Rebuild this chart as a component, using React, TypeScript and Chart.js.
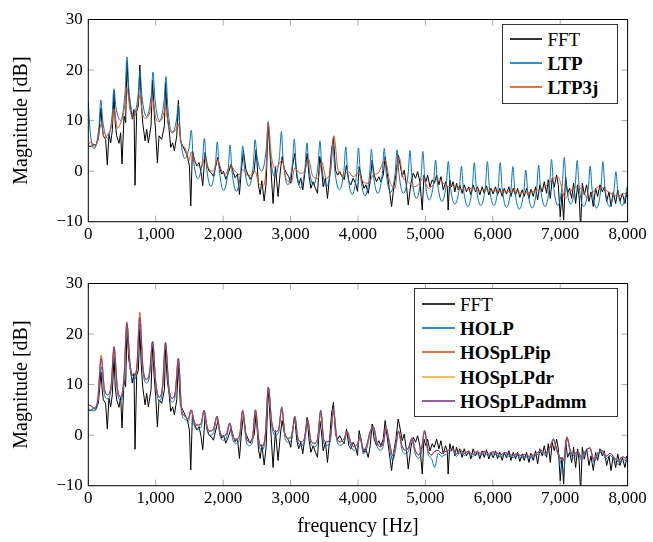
import { useEffect, useRef } from 'react';
import { Chart, registerables } from 'chart.js';

Chart.register(...registerables);

type Pt = [number, number];

const SERIF = "'Liberation Serif', 'Times New Roman', serif";

const X_TICKS = [0, 1000, 2000, 3000, 4000, 5000, 6000, 7000, 8000];
const Y_TICKS = [-10, 0, 10, 20, 30];

// Measured FFT magnitude (frequency Hz, dB) – same in both panels
const FFT: Pt[] = [
  [0, 5.0], [40, 4.9], [74, 5.3], [109, 5.1], [149, 6.3], [170, 9.5], [188, 12.5], [205, 9.0], [223, 7.0], [257, 6.3],
  [282, 1.2], [307, 7.3], [332, 5.6], [356, 8.0], [381, 15.5], [400, 9.5], [421, 7.0], [455, 5.5], [480, 7.6], [500, 1.4],
  [530, 10.9], [554, 9.6], [574, 21.5], [600, 15.0], [619, 13.5], [653, 10.3], [678, 12.2], [693, -2.8], [718, 11.9], [743, 12.9],
  [764, 21.0], [785, 14.0], [807, 9.6], [842, 6.0], [866, 8.3], [891, 5.6], [931, 9.0], [954, 18.0], [975, 12.0], [1000, 7.6],
  [1025, 1.6], [1049, 7.0], [1089, 6.3], [1129, 9.0], [1147, 17.5], [1170, 11.0], [1198, 8.3], [1223, 4.7], [1252, 5.6], [1277, 4.0],
  [1312, 7.0], [1336, 14.0], [1366, 6.0], [1401, 5.0], [1436, 4.0], [1470, 3.0], [1500, 1.0], [1520, -6.9], [1544, 4.0], [1574, 2.3],
  [1609, 1.0], [1643, 1.7], [1673, -0.3], [1698, -2.9], [1732, 3.7], [1767, 1.0], [1792, 0.0], [1822, -0.3], [1856, -1.0], [1881, 0.4],
  [1920, 2.7], [1955, 0.4], [1980, -0.6], [2005, 0.0], [2039, -1.6], [2079, -0.3], [2119, 1.4], [2153, -0.3], [2178, -1.3], [2213, -0.6],
  [2242, -4.6], [2267, -0.3], [2302, 4.0], [2336, 0.4], [2366, -0.6], [2401, -1.6], [2426, -1.0], [2460, 0.0], [2490, 4.3], [2525, -2.9],
  [2549, -4.6], [2574, -1.9], [2609, -5.9], [2638, -2.3], [2660, 6.0], [2671, 9.3], [2692, 4.2], [2741, -6.4], [2776, 0.9], [2815, -5.0],
  [2850, 0.2], [2875, 2.9], [2905, 0.6], [2939, -0.4], [2974, -1.1], [3004, -2.4], [3028, 0.9], [3063, 3.5], [3093, -1.1], [3122, -2.7],
  [3152, -1.4], [3182, -3.7], [3212, -0.4], [3246, 3.5], [3276, -1.1], [3301, -3.4], [3335, -2.1], [3370, -3.4], [3400, -4.4], [3434, 2.9],
  [3459, 0.6], [3484, -3.1], [3518, -1.4], [3548, -5.4], [3578, -1.1], [3608, 4.2], [3637, 6.5], [3667, 0.2], [3697, -0.8], [3731, -0.1],
  [3766, -1.1], [3796, -1.7], [3830, 1.2], [3865, -2.1], [3895, -2.7], [3929, -1.4], [3964, -2.4], [3994, -4.0], [4018, 0.9], [4053, -1.4],
  [4088, -3.4], [4117, -2.7], [4152, -4.4], [4182, -2.1], [4211, 2.2], [4241, -0.8], [4276, -2.1], [4310, -1.1], [4340, -2.1], [4375, -0.8],
  [4404, 2.9], [4434, -0.4], [4464, -3.4], [4499, -7.0], [4533, -3.1], [4563, -0.8], [4597, 3.2], [4627, 1.2], [4657, -1.1], [4687, 0.2],
  [4721, -3.1], [4746, -6.7], [4786, -2.4], [4820, -0.4], [4855, -1.4], [4885, -0.1], [4919, -2.1], [4954, -7.7], [4979, -0.8], [5008, -2.1],
  [5033, -0.8], [5068, -3.1], [5102, -1.7], [5132, -2.4], [5167, -0.8], [5201, -2.7], [5231, -1.1], [5266, -3.7], [5300, -2.1], [5325, -3.1],
  [5338, -7.7], [5363, -1.7], [5388, -3.1], [5412, -2.1], [5437, -4.1], [5462, -2.4], [5487, -3.7], [5511, -2.7], [5546, -4.4], [5576, -2.7],
  [5610, -4.1], [5645, -3.1], [5675, -4.7], [5709, -2.7], [5744, -4.1], [5774, -3.1], [5808, -4.7], [5843, -3.1], [5873, -4.4], [5907, -2.9],
  [5942, -4.7], [5972, -3.4], [6006, -4.5], [6041, -3.1], [6071, -4.7], [6105, -3.4], [6140, -5.0], [6170, -3.4], [6204, -4.5], [6239, -3.1],
  [6269, -5.0], [6303, -3.4], [6338, -4.7], [6368, -3.4], [6402, -5.2], [6437, -3.7], [6467, -5.0], [6501, -3.4], [6536, -5.4], [6566, -3.6],
  [6600, -5.0], [6635, -3.1], [6665, -5.7], [6699, -2.7], [6734, -4.1], [6764, -2.1], [6798, -4.4], [6823, -1.7], [6853, -5.4], [6882, -1.4],
  [6912, -3.1], [6947, -0.8], [6972, -2.7], [7001, -9.0], [7026, -4.4], [7051, -9.7], [7080, -1.1], [7110, -4.4], [7140, -3.4], [7170, -5.4],
  [7199, -2.4], [7229, -6.4], [7259, -2.7], [7283, -5.4], [7303, -11.5], [7328, -2.4], [7358, -4.7], [7392, -2.7], [7427, -6.0], [7457, -4.1],
  [7491, -7.0], [7526, -3.4], [7556, -5.0], [7590, -2.7], [7625, -4.1], [7655, -3.1], [7689, -6.0], [7724, -4.1], [7754, -7.0], [7788, -4.1],
  [7823, -6.4], [7853, -3.7], [7887, -6.0], [7922, -4.4], [7961, -6.4], [7991, -4.1], [8000, -5.4],
];

// LTP envelope (top panel)
const LTP: Pt[] = [
  [0, 13.7], [28, 7.8], [88, 4.5],
  [158, 8.8], [186, 14.1], [214, 9.9], [285, 6.5],
  [352, 10.9], [380, 16.3], [408, 12.8], [478, 10.0],
  [546, 15.7], [574, 22.6], [602, 16.2], [670, 11.0],
  [739, 15.0], [767, 19.8], [795, 14.9], [863, 10.8],
  [932, 14.8], [960, 19.6], [988, 14.3], [1056, 10.0],
  [1124, 13.9], [1152, 18.7], [1180, 12.5], [1244, 7.5],
  [1308, 10.1], [1336, 13.2], [1364, 7.3], [1432, 2.5],
  [1500, 5.0], [1528, 8.1], [1556, 2.8], [1625, -1.5],
  [1694, 2.1], [1722, 6.5], [1750, 1.3], [1817, -3.0],
  [1885, 1.0], [1913, 5.8], [1941, 0.5], [2008, -3.8],
  [2075, 0.3], [2103, 5.2], [2131, 0.1], [2197, -4.0],
  [2262, 0.1], [2290, 5.0], [2318, 0.6], [2383, -3.0],
  [2447, 1.1], [2475, 6.2], [2503, 2.8], [2572, 0.0],
  [2640, 4.4], [2668, 9.8], [2696, 3.8], [2766, -1.1],
  [2836, 2.9], [2864, 7.8], [2892, 2.0], [2960, -2.7],
  [3027, 1.4], [3055, 6.3], [3083, 1.0], [3149, -3.4],
  [3215, 0.7], [3243, 5.6], [3271, 1.0], [3340, -2.7],
  [3408, 1.2], [3436, 6.0], [3464, 1.0], [3532, -3.1],
  [3600, 0.6], [3628, 5.2], [3656, 0.3], [3724, -3.7],
  [3792, 0.1], [3820, 4.8], [3848, -0.4], [3914, -4.6],
  [3980, -0.5], [4008, 4.6], [4036, -0.6], [4104, -4.9],
  [4172, -0.8], [4200, 4.3], [4228, -0.5], [4295, -4.4],
  [4362, -0.4], [4390, 4.5], [4418, -0.3], [4485, -4.2],
  [4552, -0.4], [4580, 4.2], [4608, -0.5], [4676, -4.4],
  [4744, -0.6], [4772, 4.1], [4800, -1.1], [4868, -5.4],
  [4935, -1.2], [4963, 3.9], [4991, -1.4], [5058, -5.7],
  [5124, -2.1], [5152, 2.2], [5180, -2.3], [5246, -6.0],
  [5312, -2.4], [5340, 1.9], [5368, -2.7], [5438, -6.5],
  [5507, -3.1], [5535, 1.0], [5563, -3.4], [5630, -7.0],
  [5698, -3.1], [5726, 1.7], [5754, -3.0], [5823, -6.8],
  [5892, -2.9], [5920, 1.9], [5948, -2.9], [6015, -6.8],
  [6082, -3.0], [6110, 1.7], [6138, -3.2], [6204, -7.2],
  [6270, -3.6], [6298, 0.9], [6326, -3.7], [6394, -7.5],
  [6462, -4.0], [6490, 0.2], [6518, -3.9], [6585, -7.3],
  [6652, -3.5], [6680, 1.2], [6708, -3.3], [6776, -7.0],
  [6843, -2.8], [6871, 2.3], [6899, -2.7], [6966, -6.8],
  [7032, -2.5], [7060, 2.7], [7088, -2.4], [7156, -6.5],
  [7224, -2.6], [7252, 2.1], [7280, -2.9], [7348, -7.0],
  [7417, -3.4], [7445, 1.0], [7473, -3.6], [7540, -7.3],
  [7606, -3.2], [7634, 1.9], [7662, -3.0], [7730, -7.0],
  [7798, -3.9], [7826, -0.1], [7854, -3.8], [7921, -6.8],
  [8000, -2.8],
];

// LTP3j envelope (top panel)
const LTP3J: Pt[] = [
  [0, 5.2], [40, 5.8], [90, 4.8], [140, 6.0], [191, 9.3], [240, 6.5], [300, 7.5], [345, 9.0], [382, 12.3], [430, 8.5],
  [480, 9.5], [530, 12.0], [572, 16.5], [620, 12.0], [670, 10.5], [720, 12.0], [763, 15.0], [810, 11.0], [860, 10.5], [910, 11.5],
  [954, 14.3], [1000, 10.5], [1050, 9.8], [1100, 10.5], [1145, 12.5], [1195, 8.5], [1240, 7.8], [1290, 8.0], [1336, 9.3], [1380, 5.5],
  [1436, 4.6], [1490, 2.0], [1528, 3.8], [1560, 2.5], [1610, 1.3], [1683, 0.9], [1725, 2.6], [1782, 0.6], [1856, 0.0], [1915, 2.3],
  [1980, 0.0], [2030, -0.7], [2105, 1.1], [2178, 0.0], [2237, -0.7], [2292, 0.3], [2376, -1.0], [2475, 0.0], [2525, -2.3], [2599, -2.9],
  [2640, 1.0], [2668, 9.5], [2717, 2.9], [2766, 0.6], [2840, 1.6], [2875, 2.2], [2939, -1.7], [3013, -2.1], [3063, 0.6], [3137, -0.4],
  [3211, -0.1], [3261, 2.5], [3335, -1.1], [3410, -1.4], [3459, 1.9], [3533, -1.4], [3583, -0.4], [3642, 7.0], [3706, 0.2], [3781, -0.8],
  [3855, -0.1], [3929, -1.1], [4004, -0.4], [4078, -2.1], [4152, -2.4], [4226, -0.8], [4300, -0.4], [4400, 2.2], [4474, -2.1], [4548, -3.4],
  [4607, 2.9], [4672, -1.4], [4746, -2.1], [4820, -3.1], [4895, -2.7], [4969, -1.4], [5043, -3.4], [5117, -2.7], [5192, -1.4], [5266, -2.4],
  [5340, -3.1], [5412, -2.7], [5487, -3.4], [5586, -3.7], [5685, -3.4], [5784, -3.9], [5883, -3.6], [5982, -3.9], [6081, -3.9], [6180, -4.1],
  [6279, -3.9], [6378, -4.1], [6477, -4.3], [6576, -4.1], [6675, -3.7], [6774, -3.1], [6848, -2.1], [6912, -1.4], [6972, -1.2], [7021, -3.1],
  [7071, -5.4], [7120, -4.7], [7194, -3.4], [7269, -3.1], [7343, -4.1], [7417, -5.4], [7491, -4.1], [7566, -3.1], [7640, -3.4], [7714, -4.1],
  [7788, -4.7], [7863, -5.0], [7937, -4.4], [8000, -4.7],
];

// Bottom panel envelopes
const HOLP: Pt[] = [
  [0, 5.0], [40, 4.9], [90, 4.8], [140, 6.3], [191, 13.5], [240, 8.0], [290, 7.2], [340, 9.3], [382, 16.8], [430, 8.8],
  [480, 6.8], [530, 10.8], [572, 21.8], [620, 13.3], [670, 10.9], [720, 12.8], [763, 22.0], [810, 12.8], [860, 10.3], [910, 11.8],
  [954, 18.2], [1000, 9.8], [1050, 6.8], [1100, 8.8], [1145, 17.8], [1195, 8.8], [1240, 6.5], [1290, 7.8], [1336, 14.6], [1385, 4.4],
  [1430, 3.2], [1480, 2.6], [1526, 4.8], [1575, 1.8], [1620, 1.2], [1670, 1.5], [1717, 4.6], [1765, 0.8], [1810, 0.0], [1860, 0.5],
  [1908, 3.5], [1955, -0.2], [2000, -1.0], [2050, -0.5], [2099, 2.2], [2145, -1.0], [2195, -1.6], [2245, -0.8], [2290, 4.6], [2340, -1.0],
  [2385, -2.1], [2435, -1.3], [2480, 4.7], [2530, -1.8], [2575, -3.0], [2625, -0.6], [2671, 9.2], [2720, 2.0], [2770, 0.0], [2820, 0.4],
  [2870, 5.6], [2920, -0.7], [2970, -1.4], [3020, -0.7], [3063, 3.5], [3110, -1.3], [3160, -2.0], [3210, -1.2], [3255, 2.8], [3300, -1.7],
  [3350, -2.3], [3400, -1.5], [3448, 5.0], [3495, -1.7], [3545, -2.0], [3590, -1.2], [3636, 4.8], [3685, -1.0], [3735, -2.0], [3790, -1.5],
  [3840, 0.4], [3890, -2.0], [3940, -3.0], [3990, -2.5], [4032, -0.6], [4080, -3.7], [4130, -2.7], [4181, 0.3], [4230, 1.4], [4280, -2.0],
  [4330, -3.0], [4375, -2.2], [4418, 1.2], [4465, -2.0], [4515, -5.0], [4560, -2.7], [4602, 0.9], [4650, -2.7], [4700, -3.7], [4750, -3.2],
  [4800, -0.9], [4850, -3.7], [4900, -4.6], [4945, -3.2], [4988, 1.0], [5040, -3.7], [5090, -4.6], [5140, -6.4], [5190, -3.6], [5240, -4.2],
  [5290, -3.9], [5340, -3.6], [5400, -2.9], [5460, -4.2], [5520, -3.4], [5580, -4.0], [5640, -3.6], [5700, -4.2], [5760, -3.7], [5820, -4.0],
  [5880, -3.5], [5940, -4.2], [6000, -3.7], [6060, -3.9], [6120, -4.3], [6180, -3.8], [6240, -4.2], [6300, -4.4], [6360, -4.0], [6420, -4.5],
  [6480, -4.2], [6540, -4.6], [6600, -4.3], [6660, -3.9], [6720, -3.4], [6780, -4.0], [6840, -2.8], [6900, -0.7], [6950, -3.2], [7000, -5.0],
  [7050, -7.2], [7100, -0.3], [7150, -3.5], [7200, -4.5], [7260, -3.6], [7320, -5.0], [7380, -3.4], [7440, -2.4], [7500, -5.3], [7560, -3.9],
  [7620, -3.3], [7680, -4.7], [7740, -4.0], [7800, -4.9], [7860, -5.8], [7920, -4.8], [8000, -5.2],
];

const HOSPLP_IP: Pt[] = [
  [0, 6.0], [40, 5.8], [90, 5.4], [140, 7.0], [191, 15.8], [240, 9.0], [290, 8.0], [340, 10.0], [382, 17.6], [430, 9.5],
  [480, 7.5], [530, 11.5], [572, 22.4], [620, 14.0], [670, 11.6], [720, 13.5], [763, 24.3], [810, 13.5], [860, 11.0], [910, 12.5],
  [954, 18.6], [1000, 10.5], [1050, 7.5], [1100, 9.5], [1145, 18.3], [1195, 9.5], [1240, 7.3], [1290, 8.5], [1336, 15.2], [1385, 5.0],
  [1430, 3.8], [1480, 3.2], [1526, 5.0], [1575, 2.5], [1620, 2.0], [1670, 2.2], [1717, 4.9], [1765, 1.5], [1810, 0.8], [1860, 1.3],
  [1908, 3.7], [1955, 0.6], [2000, -0.2], [2050, 0.3], [2099, 2.4], [2145, -0.3], [2195, -0.8], [2245, 0.0], [2290, 4.9], [2340, -0.3],
  [2385, -1.3], [2435, -0.5], [2480, 5.0], [2530, -1.0], [2575, -2.3], [2625, 0.0], [2671, 9.5], [2720, 2.7], [2770, 0.7], [2820, 1.0],
  [2870, 5.3], [2920, 0.0], [2970, -0.6], [3020, 0.0], [3063, 3.7], [3110, -0.6], [3160, -1.3], [3210, -0.5], [3255, 3.0], [3300, -1.0],
  [3350, -1.6], [3400, -0.8], [3448, 4.7], [3495, -1.0], [3545, -1.3], [3590, -0.5], [3636, 5.0], [3685, -0.3], [3735, -1.3], [3790, -0.8],
  [3840, 0.7], [3890, -1.3], [3940, -2.3], [3990, -1.8], [4032, -0.3], [4080, -3.0], [4130, -2.0], [4181, 0.7], [4230, 1.7], [4280, -1.3],
  [4330, -2.3], [4375, -1.5], [4418, 1.4], [4465, -1.3], [4515, -4.0], [4560, -2.0], [4602, 0.7], [4650, -2.0], [4700, -3.0], [4750, -2.5],
  [4800, -0.6], [4850, -3.0], [4900, -3.9], [4945, -2.5], [4988, 0.7], [5040, -3.0], [5090, -3.9], [5140, -3.2], [5190, -3.0], [5240, -3.6],
  [5290, -3.3], [5340, -3.0], [5400, -2.6], [5460, -3.7], [5520, -3.0], [5580, -3.6], [5640, -3.2], [5700, -3.8], [5760, -3.3], [5820, -3.6],
  [5880, -3.2], [5940, -3.8], [6000, -3.3], [6060, -3.5], [6120, -3.9], [6180, -3.4], [6240, -3.8], [6300, -4.0], [6360, -3.6], [6420, -4.1],
  [6480, -3.8], [6540, -4.2], [6600, -3.9], [6660, -3.5], [6720, -3.0], [6780, -3.6], [6840, -2.6], [6900, -1.0], [6950, -2.8], [7000, -4.5],
  [7050, -5.0], [7100, -0.5], [7150, -3.0], [7200, -4.0], [7260, -3.2], [7320, -4.5], [7380, -3.0], [7440, -2.6], [7500, -4.8], [7560, -3.5],
  [7620, -3.0], [7680, -4.2], [7740, -3.6], [7800, -4.4], [7860, -5.2], [7920, -4.3], [8000, -4.8],
];

const HOSPLP_DR: Pt[] = [
  [0, 6.0], [40, 5.8], [90, 5.4], [140, 7.0], [191, 15.3], [240, 9.0], [290, 8.0], [340, 10.0], [382, 17.4], [430, 9.5],
  [480, 7.5], [530, 11.5], [572, 22.1], [620, 14.0], [670, 11.6], [720, 13.5], [763, 23.6], [810, 13.5], [860, 11.0], [910, 12.5],
  [954, 18.5], [1000, 10.5], [1050, 7.5], [1100, 9.5], [1145, 18.3], [1195, 9.5], [1240, 7.3], [1290, 8.5], [1336, 15.2], [1385, 5.0],
  [1430, 3.8], [1480, 3.2], [1526, 5.0], [1575, 2.5], [1620, 2.0], [1670, 2.2], [1717, 4.9], [1765, 1.5], [1810, 0.8], [1860, 1.3],
  [1908, 3.7], [1955, 0.6], [2000, -0.2], [2050, 0.3], [2099, 2.4], [2145, -0.3], [2195, -0.8], [2245, 0.0], [2290, 4.9], [2340, -0.3],
  [2385, -1.3], [2435, -0.5], [2480, 5.0], [2530, -1.0], [2575, -2.3], [2625, 0.0], [2671, 9.5], [2720, 2.7], [2770, 0.7], [2820, 1.0],
  [2870, 5.3], [2920, 0.0], [2970, -0.6], [3020, 0.0], [3063, 3.7], [3110, -0.6], [3160, -1.3], [3210, -0.5], [3255, 3.0], [3300, -1.0],
  [3350, -1.6], [3400, -0.8], [3448, 4.7], [3495, -1.0], [3545, -1.3], [3590, -0.5], [3636, 5.0], [3685, -0.3], [3735, -1.3], [3790, -0.8],
  [3840, 0.7], [3890, -1.3], [3940, -2.3], [3990, -1.8], [4032, -0.3], [4080, -3.0], [4130, -2.0], [4181, 0.7], [4230, 1.7], [4280, -1.3],
  [4330, -2.3], [4375, -1.5], [4418, 1.4], [4465, -1.3], [4515, -4.0], [4560, -2.0], [4602, 0.7], [4650, -2.0], [4700, -3.0], [4750, -2.5],
  [4800, -0.6], [4850, -3.0], [4900, -3.9], [4945, -2.5], [4988, 0.7], [5040, -3.0], [5090, -3.9], [5140, -3.2], [5190, -3.0], [5240, -3.6],
  [5290, -3.3], [5340, -3.0], [5400, -2.6], [5460, -3.7], [5520, -3.0], [5580, -3.6], [5640, -3.2], [5700, -3.8], [5760, -3.3], [5820, -3.6],
  [5880, -3.2], [5940, -3.8], [6000, -3.3], [6060, -3.5], [6120, -3.9], [6180, -3.4], [6240, -3.8], [6300, -4.0], [6360, -3.6], [6420, -4.1],
  [6480, -3.8], [6540, -4.2], [6600, -3.9], [6660, -3.5], [6720, -3.0], [6780, -3.6], [6840, -2.6], [6900, -1.0], [6950, -2.8], [7000, -4.5],
  [7050, -5.0], [7100, -0.5], [7150, -3.0], [7200, -4.0], [7260, -3.2], [7320, -4.5], [7380, -3.0], [7440, -2.6], [7500, -4.8], [7560, -3.5],
  [7620, -3.0], [7680, -4.2], [7740, -3.6], [7800, -4.4], [7860, -5.2], [7920, -4.3], [8000, -4.8],
];

const HOSPLP_ADMM: Pt[] = [
  [0, 6.0], [40, 5.8], [90, 5.4], [140, 7.0], [191, 15.2], [240, 9.0], [290, 8.0], [340, 10.0], [382, 17.4], [430, 9.5],
  [480, 7.5], [530, 11.5], [572, 22.1], [620, 14.0], [670, 11.6], [720, 13.5], [763, 23.3], [810, 13.5], [860, 11.0], [910, 12.5],
  [954, 18.5], [1000, 10.5], [1050, 7.5], [1100, 9.5], [1145, 18.3], [1195, 9.5], [1240, 7.3], [1290, 8.5], [1336, 15.2], [1385, 5.0],
  [1430, 3.8], [1480, 3.2], [1526, 5.0], [1575, 2.5], [1620, 2.0], [1670, 2.2], [1717, 4.9], [1765, 1.5], [1810, 0.8], [1860, 1.3],
  [1908, 3.7], [1955, 0.6], [2000, -0.2], [2050, 0.3], [2099, 2.4], [2145, -0.3], [2195, -0.8], [2245, 0.0], [2290, 4.9], [2340, -0.3],
  [2385, -1.3], [2435, -0.5], [2480, 5.0], [2530, -1.0], [2575, -2.3], [2625, 0.0], [2671, 9.5], [2720, 2.7], [2770, 0.7], [2820, 1.0],
  [2870, 5.3], [2920, 0.0], [2970, -0.6], [3020, 0.0], [3063, 3.7], [3110, -0.6], [3160, -1.3], [3210, -0.5], [3255, 3.0], [3300, -1.0],
  [3350, -1.6], [3400, -0.8], [3448, 4.7], [3495, -1.0], [3545, -1.3], [3590, -0.5], [3636, 5.0], [3685, -0.3], [3735, -1.3], [3790, -0.8],
  [3840, 0.7], [3890, -1.3], [3940, -2.3], [3990, -1.8], [4032, -0.3], [4080, -3.0], [4130, -2.0], [4181, 0.7], [4230, 1.7], [4280, -1.3],
  [4330, -2.3], [4375, -1.5], [4418, 1.4], [4465, -1.3], [4515, -4.0], [4560, -2.0], [4602, 0.7], [4650, -2.0], [4700, -3.0], [4750, -2.5],
  [4800, -0.6], [4850, -3.0], [4900, -3.9], [4945, -2.5], [4988, 0.7], [5040, -3.0], [5090, -3.9], [5140, -3.2], [5190, -3.0], [5240, -3.6],
  [5290, -3.3], [5340, -3.0], [5400, -2.6], [5460, -3.7], [5520, -3.0], [5580, -3.6], [5640, -3.2], [5700, -3.8], [5760, -3.3], [5820, -3.6],
  [5880, -3.2], [5940, -3.8], [6000, -3.3], [6060, -3.5], [6120, -3.9], [6180, -3.4], [6240, -3.8], [6300, -4.0], [6360, -3.6], [6420, -4.1],
  [6480, -3.8], [6540, -4.2], [6600, -3.9], [6660, -3.5], [6720, -3.0], [6780, -3.6], [6840, -2.6], [6900, -1.0], [6950, -2.8], [7000, -4.5],
  [7050, -5.0], [7100, -0.5], [7150, -3.0], [7200, -4.0], [7260, -3.2], [7320, -4.5], [7380, -3.0], [7440, -2.6], [7500, -4.8], [7560, -3.5],
  [7620, -3.0], [7680, -4.2], [7740, -3.6], [7800, -4.4], [7860, -5.2], [7920, -4.3], [8000, -4.8],
];

const C_FFT = '#000000';
const C_BLUE = '#0072BD';
const C_ORANGE = '#D95319';
const C_YELLOW = '#EDB120';
const C_PURPLE = '#7E2F8E';

const toXY = (pts: Pt[]) => pts.map(([x, y]) => ({ x, y }));

const fmtX = (v: number) => v.toLocaleString('en-US');
const fmtY = (v: number) => (v < 0 ? '\u2212' + Math.abs(v) : String(v));

const frameTicks = {
  id: 'frameTicks',
  beforeDatasetsDraw(chart: any) {
    const { ctx, chartArea: a, scales } = chart;
    const L = 6;
    ctx.save();
    ctx.strokeStyle = '#a8a8a8';
    ctx.lineWidth = 1;
    ctx.beginPath();
    for (const t of scales.x.ticks) {
      const px = scales.x.getPixelForValue(t.value);
      ctx.moveTo(px, a.bottom);
      ctx.lineTo(px, a.bottom - L);
      ctx.moveTo(px, a.top);
      ctx.lineTo(px, a.top + L);
    }
    for (const t of scales.y.ticks) {
      const py = scales.y.getPixelForValue(t.value);
      ctx.moveTo(a.left, py);
      ctx.lineTo(a.left + L, py);
      ctx.moveTo(a.right, py);
      ctx.lineTo(a.right - L, py);
    }
    ctx.stroke();
    ctx.restore();
  },
  afterDatasetsDraw(chart: any) {
    const { ctx, chartArea: a } = chart;
    ctx.save();
    ctx.strokeStyle = '#000';
    ctx.lineWidth = 1;
    ctx.strokeRect(a.left, a.top, a.right - a.left, a.bottom - a.top);
    ctx.restore();
  },
};

function lineDs(label: string, pts: Pt[], color: string, order: number, smooth: boolean) {
  return {
    label,
    data: toXY(pts),
    borderColor: color,
    backgroundColor: color,
    borderWidth: 1,
    pointRadius: 0,
    fill: false,
    order,
    tension: 0,
    cubicInterpolationMode: smooth ? 'monotone' : 'default',
  };
}

function makeConfig(datasets: any[], padTop: number, xHeight: number, xTitle: string | null) {
  return {
    type: 'line',
    data: { datasets },
    options: {
      animation: false,
      responsive: false,
      devicePixelRatio: 1,
      events: [],
      layout: { padding: { left: 0, right: 25.4, top: padTop, bottom: 0 } },
      plugins: { legend: { display: false }, tooltip: { enabled: false } },
      scales: {
        x: {
          type: 'linear',
          min: 0,
          max: 8000,
          afterBuildTicks: (s: any) => {
            s.ticks = X_TICKS.map((v) => ({ value: v }));
          },
          afterFit: (s: any) => {
            s.height = xHeight;
          },
          ticks: {
            callback: (v: any) => fmtX(Number(v)),
            color: '#000',
            font: { family: SERIF, size: 17 },
            padding: 3,
            maxRotation: 0,
            autoSkip: false,
          },
          grid: { display: false, drawTicks: false, tickLength: 0 },
          border: { display: false },
          title: xTitle
            ? {
                display: true,
                text: xTitle,
                color: '#000',
                font: { family: SERIF, size: 20 },
                padding: { top: 0, bottom: 3.5 },
              }
            : { display: false },
        },
        y: {
          type: 'linear',
          min: -10,
          max: 30,
          afterBuildTicks: (s: any) => {
            s.ticks = Y_TICKS.map((v) => ({ value: v }));
          },
          afterFit: (s: any) => {
            s.width = 88.3;
          },
          ticks: {
            callback: (v: any) => fmtY(Number(v)),
            color: '#000',
            font: { family: SERIF, size: 17 },
            padding: 5.5,
          },
          grid: { display: false, drawTicks: false, tickLength: 0 },
          border: { display: false },
          title: {
            display: true,
            text: 'Magnitude [dB]',
            color: '#000',
            font: { family: SERIF, size: 20 },
            padding: { top: 10, bottom: 0 },
          },
        },
      },
    },
    plugins: [frameTicks],
  };
}

type LegendItem = { label: string; color: string; bold: boolean };

function Legend(props: {
  left: number;
  top: number;
  width: number;
  height: number;
  firstRow: number;
  rowGap: number;
  lineX0: number;
  lineX1: number;
  textX: number;
  items: LegendItem[];
}) {
  const { left, top, width, height, firstRow, rowGap, lineX0, lineX1, textX, items } = props;
  return (
    <div
      style={{
        position: 'absolute',
        left,
        top,
        width,
        height,
        boxSizing: 'border-box',
        border: '1px solid #333',
        background: '#fff',
      }}
    >
      {items.map((it, i) => {
        const cy = firstRow + i * rowGap;
        return (
          <div key={it.label}>
            <div
              style={{
                position: 'absolute',
                left: lineX0,
                top: Math.round(cy) - 2,
                width: lineX1 - lineX0,
                height: 2,
                background: it.color,
                opacity: 0.8,
              }}
            />
            <div
              style={{
                position: 'absolute',
                left: textX,
                top: cy - 12,
                height: 24,
                lineHeight: '24px',
                fontFamily: SERIF,
                fontSize: 19,
                fontWeight: it.bold ? 'bold' : 'normal',
                color: '#000',
                whiteSpace: 'nowrap',
              }}
            >
              {it.label}
            </div>
          </div>
        );
      })}
    </div>
  );
}

export default function App() {
  const topRef = useRef<HTMLCanvasElement>(null);
  const botRef = useRef<HTMLCanvasElement>(null);

  useEffect(() => {
    const top = new Chart(
      topRef.current as HTMLCanvasElement,
      makeConfig(
        [
          lineDs('FFT', FFT, C_FFT, 3, false),
          lineDs('LTP', LTP, C_BLUE, 2, true),
          lineDs('LTP3j', LTP3J, C_ORANGE, 1, true),
        ],
        19.5,
        28.3,
        null
      ) as any
    );
    const bot = new Chart(
      botRef.current as HTMLCanvasElement,
      makeConfig(
        [
          lineDs('FFT', FFT, C_FFT, 5, false),
          lineDs('HOLP', HOLP, C_BLUE, 4, true),
          lineDs('HOSpLPip', HOSPLP_IP, C_ORANGE, 3, true),
          lineDs('HOSpLPdr', HOSPLP_DR, C_YELLOW, 2, true),
          lineDs('HOSpLPadmm', HOSPLP_ADMM, C_PURPLE, 1, true),
        ],
        33.5,
        56.3,
        'frequency [Hz]'
      ) as any
    );
    return () => {
      top.destroy();
      bot.destroy();
    };
  }, []);

  return (
    <div style={{ position: 'absolute', left: 0, top: 0, width: 653, height: 542, background: '#fff' }}>
      <canvas
        ref={topRef}
        width={653}
        height={250}
        style={{ position: 'absolute', left: 0, top: 0, width: 653, height: 250 }}
      />
      <canvas
        ref={botRef}
        width={653}
        height={292}
        style={{ position: 'absolute', left: 0, top: 250, width: 653, height: 292 }}
      />
      <Legend
        left={502}
        top={24}
        width={116}
        height={80}
        firstRow={15.3}
        rowGap={24}
        lineX0={7}
        lineX1={39.4}
        textX={44.4}
        items={[
          { label: 'FFT', color: C_FFT, bold: false },
          { label: 'LTP', color: C_BLUE, bold: true },
          { label: 'LTP3j', color: C_ORANGE, bold: true },
        ]}
      />
      <Legend
        left={414}
        top={288}
        width={204}
        height={129}
        firstRow={15.5}
        rowGap={24.4}
        lineX0={7.4}
        lineX1={39.7}
        textX={45}
        items={[
          { label: 'FFT', color: C_FFT, bold: false },
          { label: 'HOLP', color: C_BLUE, bold: true },
          { label: 'HOSpLPip', color: C_ORANGE, bold: true },
          { label: 'HOSpLPdr', color: C_YELLOW, bold: true },
          { label: 'HOSpLPadmm', color: C_PURPLE, bold: true },
        ]}
      />
    </div>
  );
}
